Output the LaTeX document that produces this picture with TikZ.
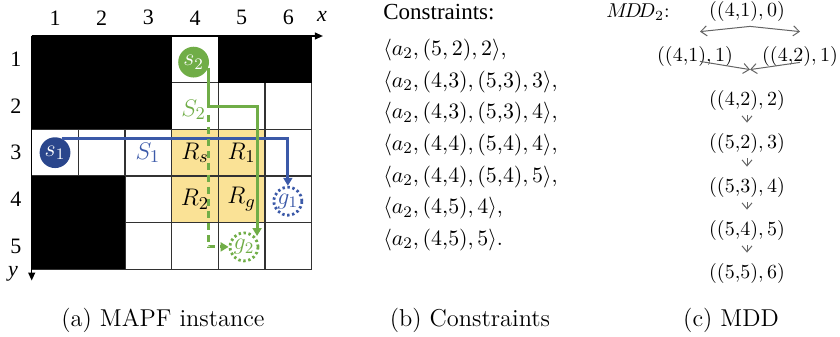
\documentclass[tikz,border=0pt]{standalone}
\usepackage{fontspec}
\newfontfamily\tnr{Liberation Serif}
\usetikzlibrary{arrows.meta,calc}
\definecolor{pblue}{RGB}{59,89,168}
\definecolor{dblue}{RGB}{42,70,140}
\definecolor{pgreen}{RGB}{112,173,71}
\definecolor{pyellow}{RGB}{250,226,150}
\definecolor{gridgray}{RGB}{50,50,50}
\definecolor{arrgray}{RGB}{100,100,100}
\tikzset{
  axlbl/.style={inner sep=0pt, font=\tnr\fontsize{11}{12}\selectfont},
  cellbl/.style={inner sep=0pt, font=\fontsize{12.5}{14}\selectfont},
  agent/.style={circle, inner sep=0pt, minimum size=15.4pt, text=white, font=\fontsize{12}{13}\selectfont},
  goal/.style={circle, inner sep=0pt, minimum size=14pt, line width=1.4pt, dash pattern=on 1.2pt off 1.3pt, font=\fontsize{12}{13}\selectfont},
  pathln/.style={line width=1.5pt, -{Triangle[length=4pt,width=4.5pt]}},
  cons/.style={anchor=west, inner sep=0pt, font=\fontsize{10.8}{13}\selectfont},
  mdd/.style={inner sep=0pt, font=\fontsize{10}{12}\selectfont},
  mddarr/.style={arrgray, line width=0.5pt, -{Straight Barb[length=3pt,width=5pt]}},
  capt/.style={inner sep=0pt, font=\fontsize{12.2}{14}\selectfont}
}
\begin{document}
\begin{tikzpicture}[x=0.5pt,y=-0.5pt]
\useasboundingbox (0,0) rectangle (840,337);
% ---------- (a) grid ----------
\begin{scope}[shift={(31.7,36)},x=23.33pt,y=-23.33pt]
  \fill[pyellow] (3,2) rectangle (5,4);
  \foreach \i in {0,...,6} { \draw[gridgray, line width=0.6pt] (\i,0) -- (\i,5); }
  \foreach \j in {0,...,5} { \draw[gridgray, line width=0.6pt] (0,\j) -- (6,\j); }
  \fill[black] (0,0) rectangle (3,2);
  \fill[black] (4,0) rectangle (6,1);
  \fill[black] (0,3) rectangle (2,5);
  \coordinate (O) at (0,0);
  \coordinate (xend) at (6.24,0);
  \coordinate (yend) at (0,5.24);
  \draw[line width=0.6pt, -{Triangle[length=4pt,width=3.5pt]}] (O) -- (xend);
  \draw[line width=0.6pt, -{Triangle[length=4pt,width=3.5pt]}] (O) -- (yend);
  \foreach \i in {1,...,6} { \node[axlbl] (col\i) at (\i-0.5,-0.39) {\i}; }
  \foreach \j in {1,...,5} { \node[axlbl] (row\j) at (-0.34,\j-0.5) {\j}; }
  \node[axlbl] (xlbl) at (6.22,-0.42) {\textit{x}};
  \node[axlbl] (ylbl) at (-0.4,5.1) {\textit{y}};
  % labels
  \node[cellbl, text=pgreen] (S2) at (3.47,1.58) {$S_2$};
  \node[cellbl, text=pblue] (S1) at (2.49,2.5) {$S_1$};
  \node[cellbl] (Rs) at (3.5,2.5) {$R_s$};
  \node[cellbl] (R1) at (4.5,2.5) {$R_1$};
  \node[cellbl] (R2) at (3.5,3.5) {$R_2$};
  \node[cellbl] (Rg) at (4.5,3.5) {$R_g$};
  % agents and goals
  \node[agent, fill=dblue] (s1) at (0.5,2.5) {$s_1$};
  \node[agent, fill=pgreen] (s2) at (3.47,0.56) {$s_2$};
  \node[goal, draw=pblue, text=pblue] (g1) at (5.49,3.54) {$g_1$};
  \node[goal, draw=pgreen, text=pgreen] (g2) at (4.55,4.52) {$g_2$};
  % paths
  \draw[pathln, pblue] (s1.65) -- (s1.65 -| g1.north) -- (g1.north);
  \coordinate (gturn) at (4.83,1.52);
  \draw[pathln, pgreen] (s2.-20) |- (gturn) -- (gturn |- g2.45);
  \coordinate (dstart) at (3.78,1.69);
  \draw[pathln, pgreen, dash pattern=on 3.5pt off 2.5pt] (dstart) |- (g2.west);
\end{scope}
% ---------- (b) constraints ----------
\node[cons, font=\tnr\fontsize{11.5}{13}\selectfont] (c0) at (383,12) {Constraints:};
\node[cons] (c1) at (383,50) {$\langle a_2, (5, 2), 2\rangle$,};
\node[cons] (c2) at (383,81.7) {$\langle a_2, (4{,}3), (5{,}3), 3\rangle$,};
\node[cons] (c3) at (383,113.3) {$\langle a_2, (4{,}3), (5{,}3), 4\rangle$,};
\node[cons] (c4) at (383,145) {$\langle a_2, (4{,}4), (5{,}4), 4\rangle$,};
\node[cons] (c5) at (383,176.7) {$\langle a_2, (4{,}4), (5{,}4), 5\rangle$,};
\node[cons] (c6) at (383,208.3) {$\langle a_2, (4{,}5), 4\rangle$,};
\node[cons] (c7) at (383,240) {$\langle a_2, (4{,}5), 5\rangle$.};
% ---------- (c) MDD ----------
\node[mdd] (mlbl) at (638,12) {$M\!D\!D_2$:};
\node[mdd] (n0) at (747,12) {$((4{,}1), 0)$};
\node[mdd] (n1a) at (695,56) {$((4{,}1), 1)$};
\node[mdd] (n1b) at (800,56) {$((4{,}2), 1)$};
\node[mdd] (n2) at (747,100) {$((4{,}2), 2)$};
\node[mdd] (n3) at (747,143) {$((5{,}2), 3)$};
\node[mdd] (n4) at (747,187) {$((5{,}3), 4)$};
\node[mdd] (n5) at (747,230) {$((5{,}4), 5)$};
\node[mdd] (n6) at (747,273) {$((5{,}5), 6)$};
\coordinate (top0) at ($(n0.south)+(3,4)$);
\draw[mddarr] (top0) -- ($(n1a.north)+(5,-14)$);
\draw[mddarr] (top0) -- ($(n1b.north)+(0,-14)$);
\coordinate (top2) at ($(n2.north)+(3,-20)$);
\draw[mddarr] ($(n1a.south)+(5,-5)$) -- (top2);
\draw[mddarr] ($(n1b.south)+(0,-4)$) -- (top2);
\foreach \a/\b in {n2/n3,n3/n4,n4/n5,n5/n6}
  \draw[mddarr, shorten <=2.5pt, shorten >=5pt] (\a.south) -- (\b.north);
% ---------- captions ----------
\node[capt] (capa) at (163,320) {(a) MAPF instance};
\node[capt] (capb) at (470,320) {(b) Constraints};
\node[capt] (capc) at (731,320) {(c) MDD};
\end{tikzpicture}
\end{document}
